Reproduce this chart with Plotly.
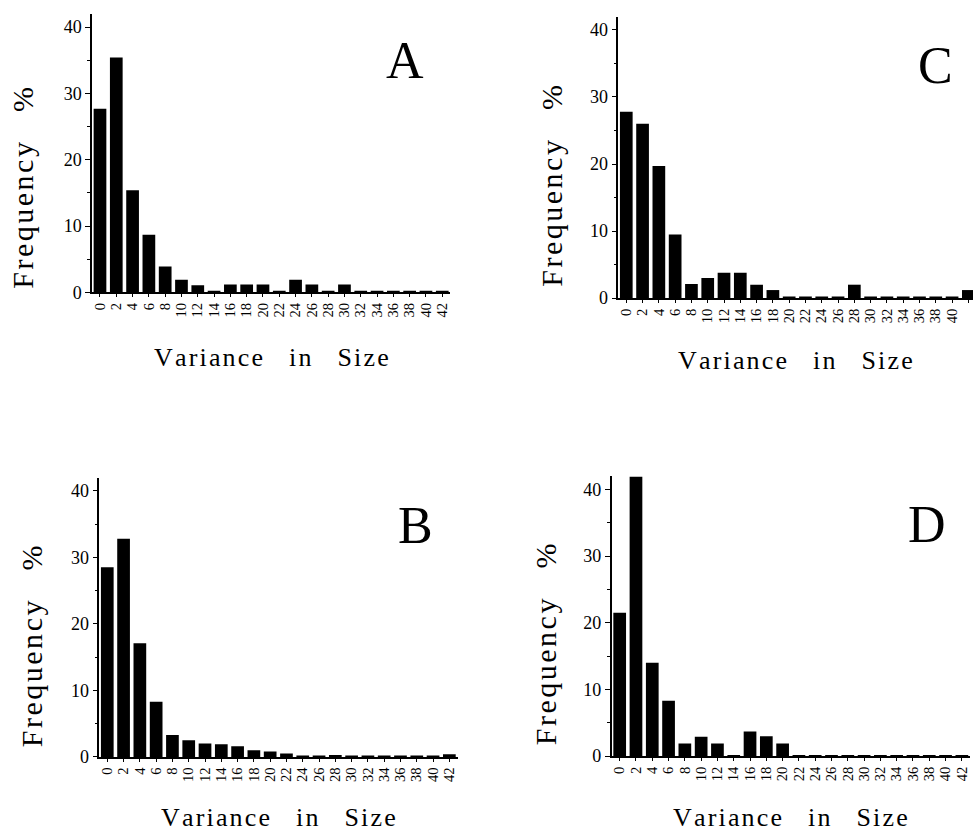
import plotly.graph_objects as go

W, H = 973, 840

variance_bins = list(range(0, 43, 2))
tick_labels = [str(v) for v in variance_bins]

freq_A = [27.7, 35.4, 15.4, 8.7, 3.9, 1.9, 1.1, 0.1, 1.2, 1.2, 1.2, 0.1, 1.9, 1.2, 0.1, 1.2, 0.1, 0.1, 0.1, 0.1, 0.1, 0.1]
freq_B = [28.5, 32.8, 17.1, 8.3, 3.3, 2.5, 2.0, 1.9, 1.6, 1.0, 0.8, 0.5, 0.1, 0.1, 0.3, 0.2, 0.1, 0.1, 0.1, 0.1, 0.1, 0.4]
freq_C = [27.8, 26.0, 19.7, 9.5, 2.1, 3.0, 3.8, 3.8, 2.0, 1.2, 0.1, 0.1, 0.1, 0.1, 2.0, 0.1, 0.1, 0.1, 0.1, 0.1, 0.1, 1.2]
freq_D = [21.5, 41.9, 14.0, 8.3, 1.9, 2.9, 1.9, 0.1, 3.7, 3.0, 1.9, 0.1, 0.1, 0.1, 0.1, 0.1, 0.1, 0.1, 0.1, 0.1, 0.1, 0.1]

panel_letters = ["A", "B", "C", "D"]
HS = "\u200a"
NB = "\u00a0"
y_title = HS.join("Frequency") + NB * 4 + "%"
x_title = HS.join("Variance") + NB * 4 + HS.join("in") + NB * 4 + HS.join("Size")

FONT = "Liberation Serif, Times New Roman, serif"

# panel geometry in pixels: (x_left, x_right, y_top, y_bottom)
panels = {
    "A": dict(data=freq_A, px=(92, 450.4), py=(14, 296), xr=(-0.98, 43.0)),
    "C": dict(data=freq_C, px=(618.3, 973), py=(16.7, 301.7), xr=(-0.98, 42.57)),
    "B": dict(data=freq_B, px=(99.3, 457.5), py=(483.3, 766), xr=(-0.98, 43.0)),
    "D": dict(data=freq_D, px=(611.7, 970), py=(481.7, 765.3), xr=(-0.98, 43.0)),
}
letter_pos = {"A": (405, 61), "B": (415, 532), "C": (935, 66), "D": (927, 531)}
ytitle_pos = {"A": (23, 190), "B": (31, 654), "C": (552, 188), "D": (545, 652)}
xtitle_y = {"A": 362, "B": 827, "C": 365, "D": 827}

fig = go.Figure()
layout = dict(
    width=W, height=H, margin=dict(l=0, r=0, t=0, b=0),
    paper_bgcolor="white", plot_bgcolor="white", showlegend=False,
    font=dict(family=FONT, color="black"),
)
annotations = []

for i, (name, p) in enumerate(panels.items()):
    n = "" if i == 0 else str(i + 1)
    fig.add_trace(go.Bar(
        x=variance_bins, y=p["data"], width=1.56,
        marker=dict(color="black", line=dict(width=0)),
        xaxis="x" + n, yaxis="y" + n,
    ))
    x0, x1 = p["px"]
    yt, yb = p["py"]
    layout["xaxis" + n] = dict(
        domain=[x0 / W, x1 / W], range=list(p["xr"]), anchor="y" + n,
        tickmode="array", tickvals=variance_bins, ticktext=tick_labels,
        tickangle=-90, tickfont=dict(size=14.5, family=FONT, color="black"),
        ticks="outside", ticklen=3, tickwidth=1, tickcolor="black",
        showline=True, linecolor="black", linewidth=1.5,
        showgrid=False, zeroline=False, fixedrange=True,
    )
    layout["yaxis" + n] = dict(
        domain=[1 - yb / H, 1 - yt / H], range=[0, 42], anchor="x" + n,
        tickvals=[0, 10, 20, 30, 40],
        tickfont=dict(size=18, family=FONT, color="black"),
        ticks="outside", ticklen=5, tickwidth=1.2, tickcolor="black",
        minor=dict(tickvals=[5, 15, 25, 35], ticks="outside", ticklen=3, tickcolor="black"),
        showline=True, linecolor="black", linewidth=1.5,
        showgrid=False, zeroline=False, fixedrange=True,
    )
    lx, ly = letter_pos[name]
    annotations.append(dict(text=name, x=lx / W, y=1 - ly / H, xref="paper", yref="paper",
                            showarrow=False, font=dict(size=52, family=FONT, color="black"),
                            xanchor="center", yanchor="middle"))
    tx, ty = ytitle_pos[name]
    annotations.append(dict(text=y_title, x=tx / W, y=1 - ty / H, xref="paper", yref="paper",
                            showarrow=False, textangle=-90,
                            font=dict(size=30, family=FONT, color="black"),
                            xanchor="center", yanchor="middle"))
    annotations.append(dict(text=x_title, x=((x0 + min(x1, 977)) / 2) / W, y=1 - xtitle_y[name] / H,
                            xref="paper", yref="paper", showarrow=False,
                            font=dict(size=26, family=FONT, color="black"),
                            xanchor="center", yanchor="middle"))

layout["annotations"] = annotations
fig.update_layout(**layout)
fig.write_html("out.html")
